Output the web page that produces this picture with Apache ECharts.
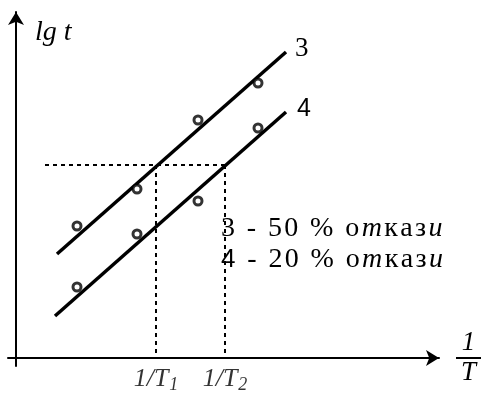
<!DOCTYPE html>
<html>
<head>
<meta charset="utf-8">
<script src="https://cdn.jsdelivr.net/npm/echarts@6/dist/echarts.min.js"></script>
<style>
  html, body { margin: 0; padding: 0; background: #fff; }
  #chart { width: 491px; height: 394px; }
</style>
</head>
<body>
<div id="chart"></div>
<script>
// Fitted straight lines: 3 = 50 % failures, 4 = 20 % failures
const line3 = [[4.1, 10.4], [27.0, 30.6]];
const line4 = [[3.9, 4.2], [27.0, 24.6]];
// Measured points around each line
const points3 = [[6.1, 13.2], [12.1, 16.9], [18.2, 23.8], [24.2, 27.5]];
const points4 = [[6.1, 7.1], [12.1, 12.4], [18.2, 15.7], [24.2, 23.0]];
// Common lg t level and the two reciprocal temperatures read from it
const levelY = 19.3;
const levelStartX = 2.9;
const tempX = [14.0, 20.9];
const tempLabels = ['1/T|1', '1/T|2'];
const lineNames = ['3', '4'];
const legendLines = ['3 - 50 % откази', '4 - 20 % откази'];
const yName = 'lg t';
const xNameTop = '1';
const xNameBottom = 'T';

const SERIF = '"Liberation Serif", "Times New Roman", serif';
const SANS = '"Liberation Sans", Arial, sans-serif';
const INK = '#000';

// Legend lines: one token per character for wider tracking;
// the leading 4 is set in a sans face, т and и in italic
const italicChars = new Set(['т', 'и']);
function legendRich(str) {
  return Array.from(str).map((ch, k) => {
    let style = italicChars.has(ch) ? 'i' : 't';
    if (k === 0 && ch === '4') style = 'a';
    return `{${style}|${ch}}`;
  }).join('');
}

const dashed = { color: INK, width: 2, type: [4, 4] };

function guide(data) {
  return {
    type: 'line', data, showSymbol: false, silent: true,
    lineStyle: dashed, z: 1
  };
}

function fitLine(data, name, font, size, offset) {
  return {
    type: 'line', data, showSymbol: false, silent: true, z: 2,
    lineStyle: { color: INK, width: 3.5 },
    endLabel: {
      show: true, formatter: name, distance: 9, offset,
      color: INK, fontFamily: font, fontSize: size
    }
  };
}

function markers(data) {
  return {
    type: 'scatter', data, symbol: 'circle', symbolSize: 8, z: 3,
    itemStyle: { color: '#fff', borderColor: INK, borderWidth: 3 }
  };
}

const chart = echarts.init(document.getElementById('chart'), null, { renderer: 'canvas' });

const legendToken = { fontFamily: SERIF, fontSize: 28, fontWeight: 'normal', color: INK,
                      lineHeight: 31, padding: [0, 2.4, 0, 0] };

chart.setOption({
  animation: false,
  backgroundColor: '#fff',
  grid: { left: 8, right: 52, top: 12, bottom: 28, containLabel: false, outerBoundsMode: 'none' },
  title: {
    text: legendLines.map(legendRich).join('\n'),
    left: 221, top: 213, padding: 0,
    textStyle: {
      fontWeight: 'normal',
      lineHeight: 31,
      rich: {
        t: legendToken,
        i: Object.assign({}, legendToken, { fontStyle: 'italic' }),
        a: Object.assign({}, legendToken, { fontFamily: SANS, fontSize: 26 })
      }
    }
  },
  xAxis: {
    type: 'value', min: -0.8, max: 42.3,
    axisLabel: { show: false }, axisTick: { show: false }, splitLine: { show: false },
    axisLine: {
      onZero: true, symbol: ['none', 'arrow'], symbolSize: [12, 13],
      lineStyle: { color: INK, width: 2 }
    },
    name: `{n|${xNameTop}}\n{bar| }\n{n|${xNameBottom}}`,
    nameLocation: 'end', nameGap: 17,
    nameTextStyle: {
      align: 'left', verticalAlign: 'middle',
      rich: {
        n: { fontFamily: SERIF, fontStyle: 'italic', fontSize: 27, color: INK,
             width: 25, align: 'center', lineHeight: 26 },
        bar: { width: 25, height: 2, backgroundColor: INK, lineHeight: 4, fontSize: 2 }
      }
    }
  },
  yAxis: {
    type: 'value', min: -0.8, max: 34.6,
    axisLabel: { show: false }, axisTick: { show: false }, splitLine: { show: false },
    axisLine: {
      onZero: true, symbol: ['none', 'arrow'], symbolSize: [12, 13],
      lineStyle: { color: INK, width: 2 }
    },
    name: yName, nameLocation: 'end', nameGap: -7,
    nameTextStyle: {
      fontFamily: SERIF, fontStyle: 'italic', fontSize: 28, color: INK,
      align: 'left', verticalAlign: 'top', padding: [0, 0, 0, 19]
    }
  },
  series: [
    guide([[levelStartX, levelY], [tempX[1], levelY]]),
    guide([[tempX[0], levelY], [tempX[0], 0]]),
    guide([[tempX[1], levelY], [tempX[1], 0]]),
    fitLine(line3, lineNames[0], SERIF, 27, [0, -3]),
    fitLine(line4, lineNames[1], SANS, 25, [2, -3]),
    markers(points3),
    markers(points4),
    {
      type: 'scatter', silent: true, symbolSize: 1, z: 4,
      itemStyle: { color: 'rgba(0,0,0,0)' },
      data: tempX.map(x => [x, 0]),
      label: {
        show: true, position: 'bottom', distance: 6,
        formatter: p => {
          const [main, sub] = tempLabels[p.dataIndex].split('|');
          return `{m|${main}}{s|${sub}}`;
        },
        rich: {
          m: { fontFamily: SERIF, fontStyle: 'italic', fontSize: 26, color: INK, lineHeight: 26 },
          s: { fontFamily: SERIF, fontStyle: 'italic', fontSize: 18, color: INK,
               padding: [12, 0, 0, 1] }
        }
      }
    }
  ]
});
</script>
</body>
</html>
